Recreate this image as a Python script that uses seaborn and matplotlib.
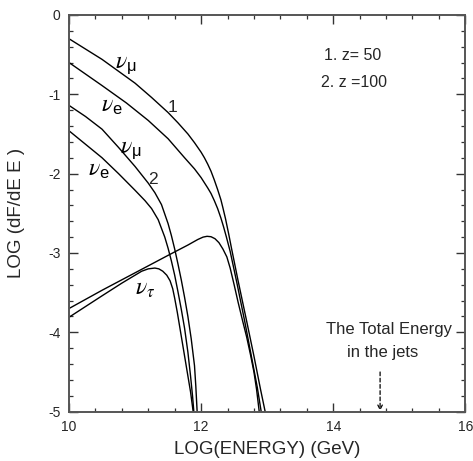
import matplotlib
matplotlib.use("Agg")
import matplotlib.pyplot as plt
from matplotlib.ticker import MultipleLocator
import seaborn as sns
import pandas as pd

# log10(E / GeV) and log10(dF/dE * E) for each neutrino flavour
# curve set 1: z = 50
logE_numu1 = [10.0, 10.5, 11.0, 11.25, 11.5, 11.65, 11.8, 11.9, 12.0, 12.05, 12.1, 12.15, 12.2, 12.25,
              12.3, 12.33, 12.37, 12.42, 12.46, 12.56, 12.69, 12.8, 12.9, 12.97]
logF_numu1 = [-0.30, -0.56, -0.86, -1.04, -1.23, -1.36, -1.50, -1.61, -1.73, -1.80, -1.88, -1.97, -2.08, -2.20,
              -2.33, -2.43, -2.57, -2.77, -2.94, -3.35, -3.86, -4.30, -4.72, -5.0]

logE_nue1 = [10.0, 10.5, 10.87, 11.2, 11.5, 11.75, 11.9, 12.0, 12.1, 12.15, 12.2, 12.25, 12.3, 12.34,
             12.38, 12.44, 12.54, 12.66, 12.77, 12.85, 12.91]
logF_nue1 = [-0.60, -0.89, -1.11, -1.33, -1.56, -1.80, -1.94, -2.05, -2.18, -2.25, -2.34, -2.44, -2.56, -2.67,
             -2.79, -2.98, -3.37, -3.86, -4.34, -4.69, -5.0]

logE_nutau1 = [10.0, 10.5, 11.0, 11.5, 11.8, 11.95, 12.03, 12.09, 12.15, 12.21, 12.27, 12.33, 12.39, 12.44,
               12.5, 12.56, 12.63, 12.69, 12.75, 12.8, 12.84, 12.88]
logF_nutau1 = [-3.70, -3.47, -3.25, -3.03, -2.90, -2.83, -2.80, -2.79, -2.795, -2.82, -2.87, -2.95, -3.05, -3.19,
               -3.40, -3.62, -3.86, -4.06, -4.29, -4.50, -4.72, -5.0]

# curve set 2: z = 100
logE_numu2 = [10.0, 10.25, 10.5, 10.75, 11.0, 11.2, 11.3, 11.4, 11.5, 11.55, 11.6, 11.65, 11.7, 11.75,
              11.8, 11.85, 11.9, 11.92, 11.94]
logF_numu2 = [-1.14, -1.28, -1.44, -1.67, -1.91, -2.12, -2.24, -2.39, -2.63, -2.78, -2.95, -3.14, -3.34, -3.56,
              -3.80, -4.08, -4.42, -4.68, -5.0]

logE_nue2 = [10.0, 10.25, 10.5, 10.75, 11.0, 11.15, 11.25, 11.35, 11.45, 11.5, 11.55, 11.6, 11.65, 11.7,
             11.75, 11.8, 11.84, 11.87, 11.89]
logF_nue2 = [-1.46, -1.63, -1.80, -2.00, -2.21, -2.34, -2.44, -2.58, -2.80, -2.94, -3.10, -3.28, -3.49, -3.71,
             -3.95, -4.25, -4.55, -4.80, -5.0]

logE_nutau2 = [10.0, 10.5, 10.8, 11.0, 11.1, 11.2, 11.3, 11.36, 11.42, 11.48, 11.53, 11.57, 11.60, 11.64,
               11.68, 11.72, 11.76, 11.80, 11.84, 11.88]
logF_nutau2 = [-3.81, -3.54, -3.38, -3.28, -3.23, -3.20, -3.19, -3.20, -3.23, -3.28, -3.35, -3.45, -3.57, -3.75,
               -3.95, -4.15, -4.35, -4.55, -4.75, -5.0]

x_ticks = [10, 12, 14, 16]
y_ticks = [0, -1, -2, -3, -4, -5]
total_energy_logE = 14.71

curves = {
    "numu1": (logE_numu1, logF_numu1),
    "nue1": (logE_nue1, logF_nue1),
    "nutau1": (logE_nutau1, logF_nutau1),
    "numu2": (logE_numu2, logF_numu2),
    "nue2": (logE_nue2, logF_nue2),
    "nutau2": (logE_nutau2, logF_nutau2),
}
frames = [pd.DataFrame({"logE": xs, "logF": ys, "curve": name}) for name, (xs, ys) in curves.items()]
df = pd.concat(frames, ignore_index=True)

sns.set_style("ticks")
plt.rcParams["font.family"] = ["Liberation Sans", "DejaVu Sans"]
plt.rcParams["axes.unicode_minus"] = False
plt.rcParams["mathtext.fontset"] = "stix"

fig = plt.figure(figsize=(4.73, 4.61), dpi=100)
ax = fig.add_axes([0.1459, 0.107, 0.8378, 0.8606])

sns.lineplot(data=df, x="logE", y="logF", units="curve", estimator=None, sort=False,
             color="black", linewidth=1.0, ax=ax)

ax.set_xlim(10, 16)
ax.set_ylim(-5, 0)
ax.set_xticks(x_ticks)
ax.set_yticks(y_ticks)
ax.set_xticklabels([str(t) for t in x_ticks])
ax.set_yticklabels([str(t) for t in y_ticks])
ax.xaxis.set_minor_locator(MultipleLocator(0.4))
ax.yaxis.set_minor_locator(MultipleLocator(0.2))
ax.tick_params(which="both", direction="in", top=True, right=True, color="#333333")
ax.tick_params(which="major", length=6.5, width=1.0, labelsize=10, pad=6)
ax.tick_params(which="minor", length=3.2, width=0.9)
for sp in ax.spines.values():
    sp.set_color("#555555")
    sp.set_linewidth(1.4)

ax.set_xlabel("LOG(ENERGY) (GeV)", fontsize=13.5, labelpad=5)
ax.set_ylabel("LOG (dF/dE E )", fontsize=13.5, labelpad=17)

# flavour labels
lab = dict(fontsize=17, color="black", ha="left", va="baseline")
ax.text(10.70, -0.67, r"$\nu_{\mathregular{μ}}$", **lab)
ax.text(10.49, -1.22, r"$\nu_{\mathregular{e}}$", **lab)
ax.text(10.77, -1.74, r"$\nu_{\mathregular{μ}}$", **lab)
ax.text(10.29, -2.02, r"$\nu_{\mathregular{e}}$", **lab)
ax.text(11.00, -3.53, r"$\nu_{\tau}$", **lab)
ax.text(11.56, -1.165, "1", fontsize=12.5, ha="center", va="center")
ax.text(11.27, -2.07, "2", fontsize=12.5, ha="center", va="center")

ax.text(13.86, -0.516, "1. z= 50", fontsize=11.5, ha="left", va="center")
ax.text(13.82, -0.856, "2. z =100", fontsize=11.5, ha="left", va="center")

ax.text(14.84, -3.97, "The Total Energy", fontsize=12, ha="center", va="center")
ax.text(14.75, -4.26, "in the jets", fontsize=12, ha="center", va="center")
ax.annotate("", xy=(total_energy_logE, -4.99), xytext=(total_energy_logE, -4.50),
            arrowprops=dict(arrowstyle="->", linestyle=(0, (3, 2)), lw=0.9, color="black",
                            mutation_scale=8, shrinkA=0, shrinkB=0))

fig.savefig("out.png", dpi=100)
